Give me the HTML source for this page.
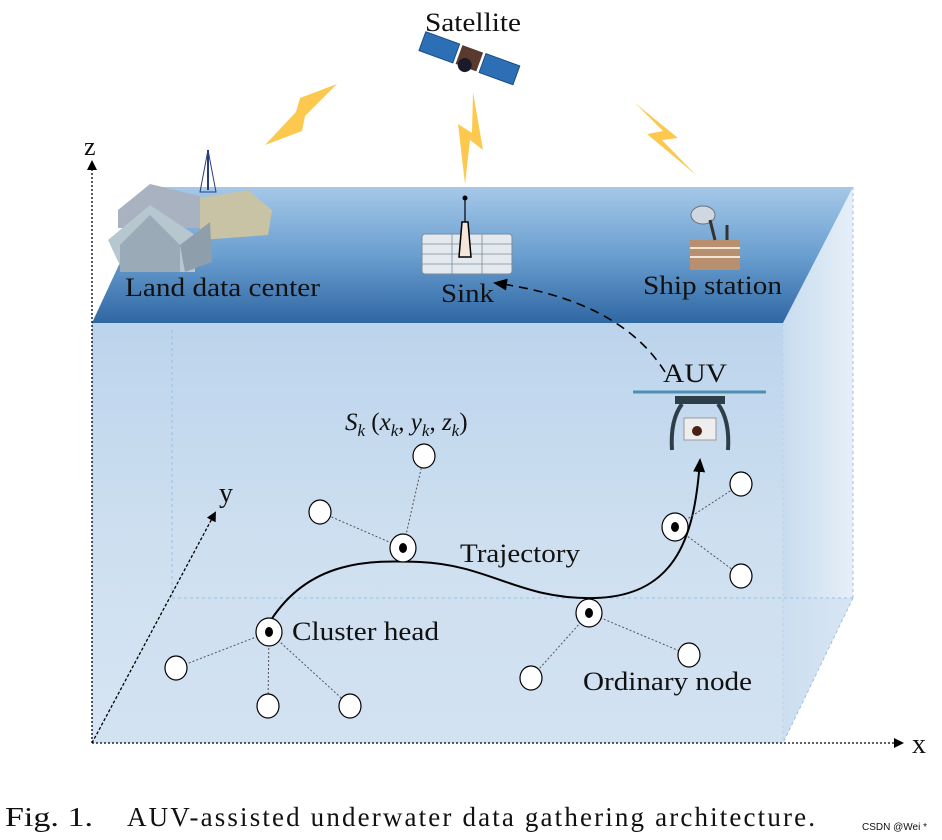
<!DOCTYPE html>
<html><head><style>
html,body{margin:0;padding:0;background:#fff;}
svg{display:block;}
text{font-family:"Liberation Serif",serif;fill:#111;}
</style></head><body>
<svg width="942" height="840" viewBox="0 0 942 840" xmlns="http://www.w3.org/2000/svg">
<defs>
<linearGradient id="top" x1="0" y1="0" x2="0" y2="1">
<stop offset="0" stop-color="#a6c8e8"/><stop offset="0.5" stop-color="#6a9fd0"/><stop offset="1" stop-color="#2f67a3"/>
</linearGradient>
<linearGradient id="front" x1="0" y1="0" x2="0" y2="1">
<stop offset="0" stop-color="#bcd4ec"/><stop offset="0.5" stop-color="#cddff0"/><stop offset="1" stop-color="#d7e5f3"/>
</linearGradient>
<linearGradient id="side" x1="0" y1="0" x2="1" y2="0">
<stop offset="0" stop-color="#c8dcef"/><stop offset="1" stop-color="#e6eff8"/>
</linearGradient>
<marker id="ah" markerWidth="10" markerHeight="10" refX="8" refY="5" orient="auto" markerUnits="userSpaceOnUse">
<path d="M0,0 L10,5 L0,10 z" fill="#000"/></marker>
<marker id="ah2" markerWidth="14" markerHeight="14" refX="12" refY="7" orient="auto" markerUnits="userSpaceOnUse">
<path d="M0,1 L14,7 L0,13 z" fill="#000"/></marker>
</defs>
<polygon points="783,323 853,187 853,598 783,743" fill="url(#side)"/>
<rect x="92" y="323" width="691" height="420" fill="url(#front)"/>
<polygon points="92,743 172,598 853,598 783,743" fill="#cfe0f0" opacity="0.6"/>
<line x1="172" y1="330" x2="172" y2="598" stroke="#9cc0e4" stroke-dasharray="3,3"/>
<line x1="172" y1="598" x2="853" y2="598" stroke="#9cc0e4" stroke-dasharray="3,3"/>
<line x1="853" y1="187" x2="853" y2="598" stroke="#9cc0e4" stroke-dasharray="3,3"/>
<line x1="853" y1="598" x2="783" y2="743" stroke="#9cc0e4" stroke-dasharray="3,3"/>
<line x1="783" y1="323" x2="783" y2="743" stroke="#b8d2ea" stroke-dasharray="3,3"/>
<polygon points="155,187 853,187 783,323 92,323" fill="url(#top)"/>
<line x1="92" y1="743" x2="92" y2="162" stroke="#000" stroke-width="1.3" stroke-dasharray="2,2" marker-end="url(#ah)"/>
<line x1="92" y1="743" x2="902" y2="743" stroke="#000" stroke-width="1.3" stroke-dasharray="2,2" marker-end="url(#ah)"/>
<line x1="92" y1="743" x2="215" y2="513" stroke="#000" stroke-width="1.3" stroke-dasharray="3,2" marker-end="url(#ah)"/>
<text x="84" y="155" font-size="26">z</text>
<text x="912" y="753" font-size="28">x</text>
<text x="219" y="502" font-size="28">y</text>
<g fill="#fcc94e">
<polygon points="337,84 305,116 302,131 265,145 296,112 300,98"/>
<polygon points="473,92 483,150 470,140 465,184 458,124 472,133"/>
<polygon points="635,103 678,138 662,140 696,175 647,134 663,131"/>
</g>
<g transform="rotate(20 468 62)">
<rect x="418" y="48" width="36" height="20" fill="#2d6fb5" stroke="#1a4c86"/>
<rect x="482" y="48" width="36" height="20" fill="#2d6fb5" stroke="#1a4c86"/>
<rect x="457" y="48" width="22" height="20" fill="#5a3a2e"/>
<circle cx="466" cy="66" r="7" fill="#1a1a2a"/>
</g>
<text x="425" y="31" font-size="26" textLength="96" lengthAdjust="spacingAndGlyphs">Satellite</text>
<g>
<polygon points="118,210 150,184 200,196 200,228 118,228" fill="#a9b2c0"/>
<polygon points="200,198 248,190 272,210 268,235 200,240" fill="#c9c3a5"/>
<polygon points="108,240 150,205 195,235 195,272 123,272" fill="#b7c7d0"/>
<polygon points="120,245 150,215 180,245 180,272 120,272" fill="#9aaab6"/>
<polygon points="180,245 210,222 212,262 185,272" fill="#8e9eaa"/>
<line x1="208" y1="190" x2="208" y2="150" stroke="#2a3d7a" stroke-width="2"/>
<polygon points="200,192 208,150 216,192" fill="none" stroke="#2a3d7a"/>
</g>
<text x="125" y="296" font-size="26" textLength="195" lengthAdjust="spacingAndGlyphs">Land data center</text>
<rect x="422" y="234" width="90" height="40" rx="3" fill="#e3e9ef" stroke="#7d8b99"/>
<g stroke="#7d8b99" stroke-width="0.8">
<line x1="422" y1="244" x2="512" y2="244"/><line x1="422" y1="254" x2="512" y2="254"/><line x1="422" y1="264" x2="512" y2="264"/>
<line x1="452" y1="234" x2="452" y2="274"/><line x1="482" y1="234" x2="482" y2="274"/>
</g>
<path d="M459,257 L462,222 L468,222 L471,257 Z" fill="#f5e6dc" stroke="#000" stroke-width="1.5"/>
<line x1="465" y1="222" x2="465" y2="200" stroke="#000" stroke-width="1.2"/>
<circle cx="465" cy="198" r="2.5" fill="#000"/>
<text x="441" y="302" font-size="26" textLength="53" lengthAdjust="spacingAndGlyphs">Sink</text>
<g>
<rect x="690" y="240" width="50" height="30" fill="#b89070"/>
<line x1="690" y1="248" x2="740" y2="248" stroke="#f3e5d5" stroke-width="2"/>
<line x1="690" y1="257" x2="740" y2="257" stroke="#f3e5d5" stroke-width="2"/>
<ellipse cx="703" cy="215" rx="12" ry="9" fill="#cfd8e0" stroke="#66727e"/>
<line x1="710" y1="220" x2="715" y2="240" stroke="#333" stroke-width="3"/>
<line x1="727" y1="225" x2="727" y2="240" stroke="#333" stroke-width="3"/>
</g>
<text x="643" y="294" font-size="26" textLength="139" lengthAdjust="spacingAndGlyphs">Ship station</text>
<path d="M665,372 Q620,300 495,283" fill="none" stroke="#000" stroke-width="1.6" stroke-dasharray="9,6" marker-end="url(#ah2)"/>
<text x="663" y="382" font-size="26" textLength="64" lengthAdjust="spacingAndGlyphs">AUV</text>
<g>
<line x1="633" y1="392" x2="766" y2="392" stroke="#4d8fb5" stroke-width="3"/>
<rect x="675" y="396" width="50" height="8" fill="#2c3e4a"/>
<path d="M682,404 Q670,420 672,450 M718,404 Q730,420 728,450" fill="none" stroke="#2c3e4a" stroke-width="4"/>
<rect x="684" y="418" width="32" height="22" fill="#eee" stroke="#999"/>
<circle cx="697" cy="431" r="5" fill="#4a2010"/>
</g>
<path d="M271,620 C310,560 370,560 420,562 C490,565 520,600 595,598 C680,596 695,530 700,460" fill="none" stroke="#000" stroke-width="2" marker-end="url(#ah2)"/>
<g stroke="#555" stroke-width="1" stroke-dasharray="2,2">
<line x1="269" y1="632" x2="176" y2="668"/><line x1="269" y1="632" x2="268" y2="706"/><line x1="269" y1="632" x2="350" y2="706"/>
<line x1="403" y1="548" x2="320" y2="512"/><line x1="403" y1="548" x2="424" y2="456"/>
<line x1="589" y1="613" x2="531" y2="678"/><line x1="589" y1="613" x2="689" y2="655"/>
<line x1="675" y1="527" x2="741" y2="484"/><line x1="675" y1="527" x2="741" y2="576"/>
</g>
<g fill="#fff" stroke="#000" stroke-width="1.2">
<ellipse cx="176" cy="668" rx="11" ry="12"/><ellipse cx="268" cy="706" rx="11" ry="12"/><ellipse cx="350" cy="706" rx="11" ry="12"/>
<ellipse cx="320" cy="512" rx="11" ry="12"/><ellipse cx="424" cy="456" rx="11" ry="12"/>
<ellipse cx="531" cy="678" rx="11" ry="12"/><ellipse cx="689" cy="655" rx="11" ry="12"/>
<ellipse cx="741" cy="484" rx="11" ry="12"/><ellipse cx="741" cy="576" rx="11" ry="12"/>
<ellipse cx="269" cy="632" rx="13" ry="14"/><ellipse cx="403" cy="548" rx="13" ry="14"/>
<ellipse cx="589" cy="613" rx="13" ry="14"/><ellipse cx="675" cy="527" rx="13" ry="14"/>
</g>
<g fill="#000">
<ellipse cx="269" cy="632" rx="4" ry="5"/><ellipse cx="403" cy="548" rx="4" ry="5"/>
<ellipse cx="589" cy="613" rx="4" ry="5"/><ellipse cx="675" cy="527" rx="4" ry="5"/>
</g>
<text x="292" y="640" font-size="26" textLength="147" lengthAdjust="spacingAndGlyphs">Cluster head</text>
<text x="460" y="562" font-size="26" textLength="120" lengthAdjust="spacingAndGlyphs">Trajectory</text>
<text x="583" y="690" font-size="26" textLength="169" lengthAdjust="spacingAndGlyphs">Ordinary node</text>
<text x="345" y="430" font-size="25" font-style="italic">S<tspan font-size="17" dy="6">k</tspan><tspan dy="-6" font-style="normal"> (</tspan>x<tspan font-size="17" dy="6">k</tspan><tspan dy="-6" font-style="normal">, </tspan>y<tspan font-size="17" dy="6">k</tspan><tspan dy="-6" font-style="normal">, </tspan>z<tspan font-size="17" dy="6">k</tspan><tspan dy="-6" font-style="normal">)</tspan></text>
<text x="5" y="826" font-size="27" fill="#222" textLength="88" lengthAdjust="spacingAndGlyphs">Fig. 1.</text>
<text x="127" y="826" font-size="27" fill="#222" textLength="688" lengthAdjust="spacing">AUV-assisted underwater data gathering architecture.</text>
<text x="862" y="830" font-size="10" fill="#999" style="font-family:'Liberation Sans',sans-serif">CSDN @Wei *</text>
</svg>
</body></html>
